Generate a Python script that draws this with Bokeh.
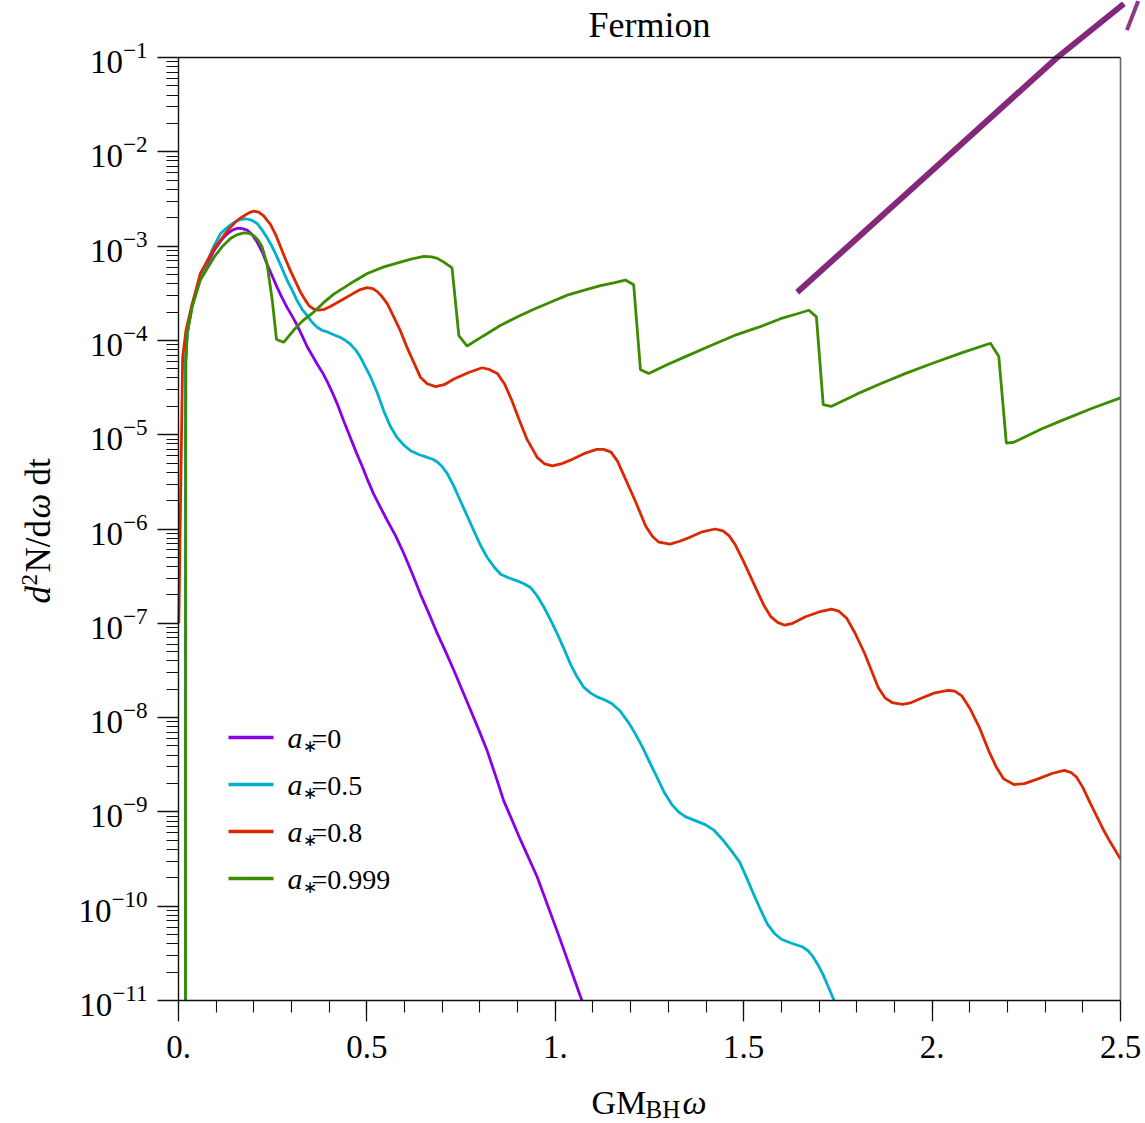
import math
from bokeh.plotting import figure
from bokeh.models import (Range1d, FixedTicker, LogAxis, LinearAxis, LogTickFormatter,
                          CustomJSTickFormatter, Label, Arrow)
from bokeh.embed import file_html
from bokeh.resources import INLINE

# ---------------- data (y read as log10 values) ----------------
X_A0 = [0.0185, 0.019, 0.023, 0.036, 0.058, 0.094, 0.115, 0.129, 0.143, 0.156, 0.170, 0.182,
        0.196, 0.209, 0.222, 0.235, 0.249, 0.262, 0.275, 0.288, 0.302, 0.315, 0.328, 0.342,
        0.355, 0.368, 0.382, 0.395, 0.408, 0.421, 0.438, 0.456, 0.472, 0.488, 0.503, 0.518,
        0.536, 0.554, 0.576, 0.598, 0.620, 0.642, 0.665, 0.687, 0.709, 0.731, 0.753, 0.775,
        0.797, 0.819, 0.841, 0.863, 0.908, 0.952, 1.010, 1.067, 1.071]
LOG_Y_A0 = [-11.0, -4.23, -3.93, -3.63, -3.33, -3.05, -2.93, -2.87, -2.83, -2.81, -2.815, -2.83,
            -2.88, -2.96, -3.06, -3.19, -3.32, -3.44, -3.55, -3.65, -3.745, -3.84, -3.95, -4.07,
            -4.16, -4.25, -4.34, -4.44, -4.55, -4.67, -4.85, -5.03, -5.19, -5.34, -5.49, -5.63,
            -5.77, -5.91, -6.07, -6.26, -6.47, -6.69, -6.90, -7.11, -7.30, -7.50, -7.71, -7.92,
            -8.13, -8.35, -8.61, -8.88, -9.30, -9.69, -10.32, -10.96, -11.0]

X_A05 = [0.0185, 0.019, 0.023, 0.036, 0.058, 0.094, 0.111, 0.130, 0.147, 0.163, 0.178, 0.194,
         0.209, 0.222, 0.235, 0.249, 0.262, 0.275, 0.288, 0.302, 0.315, 0.328, 0.342, 0.355,
         0.368, 0.382, 0.395, 0.412, 0.430, 0.443, 0.456, 0.470, 0.483, 0.496, 0.510, 0.528,
         0.545, 0.562, 0.580, 0.598, 0.616, 0.638, 0.660, 0.675, 0.687, 0.700, 0.713, 0.730,
         0.748, 0.766, 0.784, 0.801, 0.819, 0.837, 0.855, 0.877, 0.899, 0.917, 0.934, 0.952,
         0.970, 0.988, 1.005, 1.023, 1.040, 1.058, 1.076, 1.094, 1.111, 1.130, 1.150, 1.172,
         1.194, 1.212, 1.231, 1.250, 1.272, 1.290, 1.309, 1.327, 1.345, 1.370, 1.398, 1.420,
         1.443, 1.465, 1.489, 1.508, 1.526, 1.545, 1.563, 1.582, 1.600, 1.625, 1.655, 1.670,
         1.683, 1.697, 1.710, 1.725, 1.740]
LOG_Y_A05 = [-11.0, -4.23, -3.93, -3.63, -3.33, -3.00, -2.87, -2.80, -2.75, -2.72, -2.71, -2.725,
             -2.76, -2.83, -2.91, -3.01, -3.12, -3.24, -3.36, -3.47, -3.58, -3.67, -3.74, -3.81,
             -3.86, -3.895, -3.91, -3.94, -3.97, -4.00, -4.04, -4.10, -4.18, -4.28, -4.39, -4.56,
             -4.75, -4.91, -5.03, -5.11, -5.17, -5.21, -5.24, -5.26, -5.29, -5.34, -5.41, -5.54,
             -5.70, -5.86, -6.02, -6.17, -6.30, -6.40, -6.48, -6.52, -6.55, -6.58, -6.62, -6.71,
             -6.83, -6.97, -7.11, -7.27, -7.43, -7.57, -7.68, -7.74, -7.78, -7.81, -7.85, -7.93,
             -8.05, -8.17, -8.31, -8.47, -8.65, -8.80, -8.92, -9.00, -9.05, -9.09, -9.135, -9.19,
             -9.29, -9.40, -9.53, -9.70, -9.87, -10.04, -10.19, -10.29, -10.35, -10.39, -10.43,
             -10.47, -10.53, -10.62, -10.72, -10.86, -11.0]

X_A08 = [0.0008, 0.011, 0.020, 0.036, 0.058, 0.094, 0.120, 0.138, 0.155, 0.173, 0.188, 0.200,
         0.213, 0.226, 0.244, 0.258, 0.271, 0.284, 0.297, 0.311, 0.324, 0.336, 0.346, 0.358,
         0.372, 0.387, 0.403, 0.430, 0.456, 0.480, 0.501, 0.515, 0.527, 0.540, 0.554, 0.570,
         0.589, 0.605, 0.624, 0.642, 0.660, 0.682, 0.705, 0.731, 0.770, 0.806, 0.826, 0.846,
         0.865, 0.884, 0.903, 0.925, 0.952, 0.972, 0.992, 1.015, 1.040, 1.080, 1.110, 1.128,
         1.148, 1.165, 1.184, 1.212, 1.240, 1.258, 1.275, 1.304, 1.330, 1.350, 1.390, 1.424,
         1.445, 1.461, 1.478, 1.498, 1.535, 1.555, 1.572, 1.590, 1.609, 1.630, 1.664, 1.700,
         1.733, 1.752, 1.774, 1.795, 1.821, 1.857, 1.875, 1.894, 1.922, 1.945, 1.968, 2.005,
         2.042, 2.060, 2.079, 2.100, 2.125, 2.150, 2.171, 2.190, 2.217, 2.245, 2.281, 2.320,
         2.351, 2.368, 2.383, 2.400, 2.420, 2.440, 2.456, 2.470, 2.485, 2.500]
LOG_Y_A08 = [-7.0, -4.18, -3.89, -3.62, -3.29, -3.03, -2.89, -2.80, -2.73, -2.68, -2.645, -2.63,
             -2.64, -2.68, -2.77, -2.88, -3.01, -3.14, -3.26, -3.38, -3.49, -3.57, -3.63, -3.665,
             -3.68, -3.67, -3.64, -3.58, -3.52, -3.465, -3.44, -3.45, -3.48, -3.535, -3.61, -3.74,
             -3.90, -4.06, -4.23, -4.39, -4.46, -4.49, -4.47, -4.41, -4.34, -4.29, -4.31, -4.35,
             -4.46, -4.63, -4.83, -5.05, -5.24, -5.31, -5.33, -5.31, -5.27, -5.195, -5.155, -5.155,
             -5.185, -5.28, -5.45, -5.70, -5.97, -6.08, -6.14, -6.16, -6.13, -6.10, -6.03, -6.00,
             -6.02, -6.07, -6.17, -6.33, -6.65, -6.82, -6.93, -6.99, -7.02, -7.00, -6.93, -6.88,
             -6.85, -6.87, -6.95, -7.10, -7.32, -7.68, -7.79, -7.84, -7.86, -7.84, -7.80, -7.74,
             -7.71, -7.72, -7.77, -7.90, -8.10, -8.35, -8.53, -8.65, -8.71, -8.70, -8.65, -8.59,
             -8.56, -8.58, -8.63, -8.74, -8.91, -9.07, -9.20, -9.30, -9.40, -9.50]

X_A0999 = [0.0185, 0.0194, 0.023, 0.036, 0.058, 0.094, 0.115, 0.138, 0.155, 0.173, 0.188, 0.200,
           0.212, 0.222, 0.235, 0.249, 0.260, 0.279, 0.306, 0.330, 0.359, 0.385, 0.412, 0.455,
           0.501, 0.545, 0.589, 0.620, 0.651, 0.672, 0.687, 0.704, 0.726, 0.744, 0.766, 0.810,
           0.855, 0.900, 0.943, 0.990, 1.032, 1.075, 1.120, 1.155, 1.186, 1.208, 1.226, 1.248,
           1.295, 1.341, 1.410, 1.474, 1.540, 1.598, 1.640, 1.673, 1.693, 1.711, 1.732, 1.800,
           1.863, 1.930, 1.996, 2.080, 2.155, 2.177, 2.197, 2.217, 2.290, 2.350, 2.425, 2.500]
LOG_Y_A0999 = [-11.0, -4.19, -3.93, -3.65, -3.36, -3.12, -3.01, -2.92, -2.88, -2.86, -2.865,
               -2.89, -2.94, -3.01, -3.19, -3.58, -3.99, -4.02, -3.89, -3.79, -3.70, -3.60, -3.51,
               -3.40, -3.29, -3.22, -3.17, -3.135, -3.11, -3.115, -3.13, -3.17, -3.23, -3.95,
               -4.06, -3.95, -3.84, -3.75, -3.67, -3.59, -3.52, -3.47, -3.42, -3.39, -3.36, -3.41,
               -4.31, -4.35, -4.26, -4.18, -4.06, -3.95, -3.86, -3.77, -3.72, -3.68, -3.75, -4.68,
               -4.70, -4.57, -4.46, -4.35, -4.25, -4.13, -4.03, -4.17, -5.09, -5.08, -4.94, -4.84,
               -4.72, -4.61]

# stray purple trace in the upper right of the reference (two strokes)
X_STRAY = [1.642, 1.951, 2.332, 2.509]
LOG_Y_STRAY = [-3.49, -2.375, -1.0, -0.43]
X_STRAY2 = [2.517, 2.547]
LOG_Y_STRAY2 = [-0.71, -0.40]

SERIES_X = [X_A0, X_A05, X_A08, X_A0999]
SERIES_LOG_Y = [LOG_Y_A0, LOG_Y_A05, LOG_Y_A08, LOG_Y_A0999]
SERIES_VALUES = ["0", "0.5", "0.8", "0.999"]
SERIES_COLORS = ["#8a00e6", "#00b0cc", "#dc2800", "#3c8c00"]
STRAY_COLOR = "#7a1670"

X_TICKS = [0.0, 0.5, 1.0, 1.5, 2.0, 2.5]
X_TICK_LABELS = ["0.", "0.5", "1.", "1.5", "2.", "2.5"]
Y_TICKS = [1e-11, 1e-10, 1e-9, 1e-8, 1e-7, 1e-6, 1e-5, 1e-4, 1e-3, 1e-2, 1e-1]
TITLE = "Fermion"

# ---------------- layout (picture pixels) ----------------
FONT = "Liberation Serif"
W, H = 1145, 1123
PX_X0, PX_X25 = 178.0, 1120.0      # pixel of x = 0 and x = 2.5
PX_YM1, PX_YM11 = 57.0, 1000.0     # pixel of y = 1e-1 and y = 1e-11
ppu = (PX_X25 - PX_X0) / 2.5
ppd = (PX_YM11 - PX_YM1) / 10.0
x_lo, x_hi = -PX_X0 / ppu, (W - PX_X0) / ppu
y_lo, y_hi = 10 ** (-11 - (H - PX_YM11) / ppd), 10 ** (-1 + PX_YM1 / ppd)

p = figure(width=W, height=H, y_axis_type="log", title=None,
           x_range=Range1d(x_lo, x_hi), y_range=Range1d(y_lo, y_hi),
           output_backend="svg", toolbar_location=None,
           min_border=0, min_border_left=0, min_border_right=0,
           min_border_top=0, min_border_bottom=0)
p.outline_line_color = None
p.xgrid.visible = False
p.ygrid.visible = False
p.background_fill_color = "white"
p.border_fill_color = "white"

xa = p.xaxis[0]
ya = p.yaxis[0]
xa.fixed_location = 1e-11
ya.fixed_location = 0.0
xa.bounds = (0.0, 2.5)
ya.bounds = (1e-11, 1e-1)
for ax in (xa, ya):
    ax.major_tick_in = 0
    ax.major_tick_out = 21
    ax.minor_tick_in = 0
    ax.minor_tick_out = 12
    ax.axis_line_width = 1.4
    ax.axis_line_color = "#111111"
    ax.major_tick_line_width = 1.3
    ax.minor_tick_line_width = 1.1
    ax.major_tick_line_color = "#111111"
    ax.minor_tick_line_color = "#111111"
    ax.major_label_text_font = FONT
    ax.major_label_text_font_size = "33px"
    ax.major_label_text_color = "black"
ya.major_label_standoff = 10
xa.major_label_standoff = 14

x_minor = [i / 10 for i in range(26)]
y_minor = [k * 10.0 ** e for e in range(-11, -1) for k in range(2, 10)]
xa.ticker = FixedTicker(ticks=X_TICKS, minor_ticks=x_minor)
ya.ticker = FixedTicker(ticks=Y_TICKS, minor_ticks=y_minor)
xa.formatter = CustomJSTickFormatter(args=dict(tvals=X_TICKS, tlabels=X_TICK_LABELS), code="""
let best = 0, bd = 1e9;
for (let i = 0; i < tvals.length; i++) { const d = Math.abs(tvals[i] - tick); if (d < bd) { bd = d; best = i; } }
return tlabels[best];
""")
ya.formatter = LogTickFormatter()

# right and top frame edges
ra = LogAxis(ticker=FixedTicker(ticks=[]), bounds=(1e-11, 1e-1), fixed_location=2.5,
             axis_line_color="#666666", axis_line_width=1.6,
             major_tick_line_color=None, minor_tick_line_color=None,
             major_label_text_font_size="0px")
p.add_layout(ra, "right")
ta = LinearAxis(ticker=FixedTicker(ticks=[]), bounds=(0.0, 2.5), fixed_location=1e-1,
                axis_line_color="#111111", axis_line_width=1.3,
                major_tick_line_color=None, minor_tick_line_color=None,
                major_label_text_font_size="0px")
p.add_layout(ta, "above")

# ---------------- curves ----------------
for xs, lys, c in zip(SERIES_X, SERIES_LOG_Y, SERIES_COLORS):
    p.line(xs, [10 ** v for v in lys], line_color=c, line_width=2.8)
p.line(X_STRAY, [10 ** v for v in LOG_Y_STRAY], line_color=STRAY_COLOR, line_width=6, line_alpha=0.92)
p.line(X_STRAY2, [10 ** v for v in LOG_Y_STRAY2], line_color=STRAY_COLOR, line_width=4, line_alpha=0.85)


# ---------------- texts ----------------
BASE_SHIFT = 0.33   # measured offset of the rendered baseline, in em


def lab(text, px, py, size, style="normal", angle=0.0, align="left"):
    """px, py: baseline position in picture pixels (horizontal) or baseline x for rotated text."""
    if angle:
        px = px - BASE_SHIFT * size
    else:
        py = py - BASE_SHIFT * size
    p.add_layout(Label(x=px, y=H - py, x_units="screen", y_units="screen",
                       text=text, text_font=FONT, text_font_size=f"{size}px",
                       text_font_style=style, text_color="black", text_align=align,
                       text_baseline="alphabetic", angle=angle))


lab(TITLE, (PX_X0 + PX_X25) / 2, 36, 36, align="center")

# x axis label: GM_BH ω
lab("GM", 591, 1113, 34)
lab("BH", 645, 1117, 25)
lab("\u03c9", 682, 1113, 34, style="italic")

# y axis label: d²N/dω dt (rotated)
r = math.pi / 2
lab("d", 50, 603, 35, style="italic", angle=r)
lab("2", 37, 585, 23, angle=r)
lab("N/d", 50, 572, 35, angle=r)
lab("\u03c9", 50, 518, 35, style="italic", angle=r)
lab("dt", 50, 485, 35, angle=r)

# legend
for i, (val, c) in enumerate(zip(SERIES_VALUES, SERIES_COLORS)):
    yy = 737 + 47 * i
    p.add_layout(Arrow(end=None, x_start=228, y_start=H - yy, x_end=273, y_end=H - yy,
                       start_units="screen", end_units="screen",
                       line_color=c, line_width=3.3))
    base = 747 + 47 * i
    lab("a", 287, base, 30, style="italic")
    lab("\u2217", 302, base + 5, 17)
    lab("=" + val, 311, base, 28)

open("out.html", "w").write(file_html(p, INLINE))
